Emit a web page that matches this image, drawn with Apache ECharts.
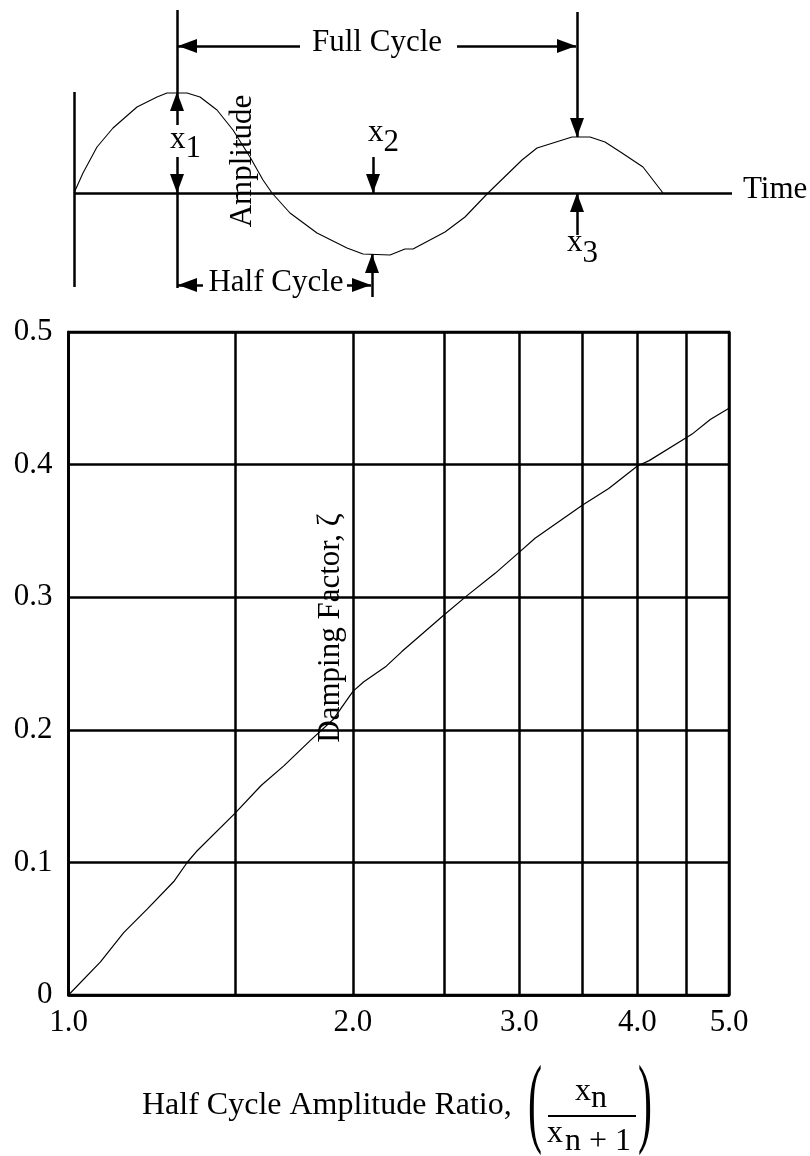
<!DOCTYPE html>
<html><head><meta charset="utf-8">
<script src="https://cdn.jsdelivr.net/npm/echarts@6/dist/echarts.min.js"></script>
<style>html,body{margin:0;padding:0;background:#fff}#c{width:810px;height:1156px}</style>
</head><body><div id="c"></div>
<script>
// ---- main chart data (half cycle amplitude ratio vs damping factor) ----
const ratio = [1.0, 1.081, 1.144, 1.212, 1.294, 1.337, 1.365, 1.5, 1.599, 1.691, 1.803, 1.907, 2.0, 2.052, 2.169, 2.253, 2.5, 2.639, 2.828, 3.0, 3.117, 3.5, 3.73, 4.0, 4.116, 4.5, 4.57, 4.777, 5.0];
const zeta  = [0, 0.025, 0.047, 0.065, 0.086, 0.1005, 0.108, 0.137, 0.158, 0.173, 0.192, 0.208, 0.229, 0.236, 0.248, 0.259, 0.287, 0.301, 0.318, 0.334, 0.3445, 0.3695, 0.382, 0.399, 0.403, 0.420, 0.423, 0.434, 0.4425];
const xGridValues = [1, 1.5, 2, 2.5, 3, 3.5, 4, 4.5, 5];
const xLabelValues = [1, 2, 3, 4, 5];
const yMin = 0, yMax = 0.5, yStep = 0.1;

// ---- schematic wave (time, amplitude) ----
const waveTime = [0, 0.09, 0.23, 0.39, 0.63, 0.83, 0.93, 1.13, 1.26, 1.43, 1.59, 1.76, 1.89, 1.98, 2.16, 2.43, 2.73, 2.89, 3.16, 3.31, 3.39, 3.71, 3.91, 4.14, 4.48, 4.63, 4.98, 5.16, 5.31, 5.48, 5.69, 5.89];
const waveAmp  = [0, 0.20, 0.46, 0.65, 0.86, 0.96, 1.0, 1.0, 0.96, 0.83, 0.63, 0.36, 0.13, 0, -0.20, -0.40, -0.55, -0.61, -0.62, -0.56, -0.56, -0.39, -0.24, 0, 0.33, 0.45, 0.56, 0.56, 0.51, 0.40, 0.26, 0];
// schematic segments in (time, amplitude) space: [t1, a1, t2, a2, arrowAtEnd]
const diagramSegments = [
  [0, 1.01, 0, -0.94, 0],
  [0, 0, 6.58, 0, 0],
  [1.03, 1.83, 1.03, 1.01, 0],
  [1.03, 0.68, 1.03, 1.01, 1],
  [1.03, 0.36, 1.03, 0, 1],
  [1.03, 0, 1.03, -0.95, 0],
  [2.26, 1.47, 1.04, 1.47, 1],
  [3.83, 1.47, 5.02, 1.47, 1],
  [5.03, 1.81, 5.03, 0.56, 1],
  [5.03, -0.42, 5.03, 0, 1],
  [2.99, 0.36, 2.99, 0, 1],
  [2.98, -1.04, 2.98, -0.61, 1],
  [1.29, -0.92, 1.04, -0.92, 1],
  [2.73, -0.92, 2.97, -0.92, 1]
];

const FONT = '"Liberation Serif", "DejaVu Serif", serif';
const chart = echarts.init(document.getElementById('c'), null, {renderer: 'canvas'});

const segData = diagramSegments.map(s => [
  {coord: [s[0], s[1]], symbol: 'none'},
  {coord: [s[2], s[3]], symbol: s[4] ? 'triangle' : 'none', symbolSize: [14, 19], symbolOffset: [0, 9.5]}
]);

function txt(text, x, y, size, align, rot) {
  return {type: 'text', x: x, y: y, rotation: rot || 0, silent: true,
    style: {text: text, font: size + 'px ' + FONT, fill: '#000', align: align || 'left', verticalAlign: 'middle'}};
}

const option = {
  animation: false,
  backgroundColor: '#fff',
  grid: [
    {left: 68.5, top: 332, width: 660.5, height: 663, show: true, borderColor: '#000', borderWidth: 2.5, backgroundColor: 'transparent', outerBoundsMode: 'none', containLabel: false},
    {left: 74, top: 3, width: 736, height: 310, show: false, outerBoundsMode: 'none', containLabel: false}
  ],
  xAxis: [
    {type: 'log', logBase: 10, min: 1, max: 5, gridIndex: 0,
     axisLine: {show: true, lineStyle: {color: '#000', width: 2.5}},
     axisTick: {show: false, customValues: xGridValues},
     axisLabel: {show: true, customValues: xLabelValues, formatter: v => Number(v).toFixed(1), fontFamily: FONT, fontSize: 31, color: '#000', margin: 12},
     splitLine: {show: true, lineStyle: {color: '#000', width: 2.5}},
     minorTick: {show: false}, minorSplitLine: {show: false}},
    {type: 'value', gridIndex: 1, min: 0, max: 7.36, show: false}
  ],
  yAxis: [
    {type: 'value', min: yMin, max: yMax, interval: yStep, gridIndex: 0,
     axisLine: {show: true, lineStyle: {color: '#000', width: 2.5}},
     axisTick: {show: false},
     axisLabel: {formatter: v => (v === 0 ? '0' : v.toFixed(1)), fontFamily: FONT, fontSize: 31, color: '#000', margin: 16},
     splitLine: {show: true, lineStyle: {color: '#000', width: 2.5}}},
    {type: 'value', gridIndex: 1, min: -1.2, max: 1.9, show: false}
  ],
  series: [
    {type: 'line', xAxisIndex: 0, yAxisIndex: 0, data: ratio.map((r, i) => [r, zeta[i]]),
     symbol: 'none', lineStyle: {color: '#000', width: 1.2}, silent: true, z: 5},
    {type: 'line', xAxisIndex: 1, yAxisIndex: 1, data: waveTime.map((t, i) => [t, waveAmp[i]]),
     symbol: 'none', lineStyle: {color: '#000', width: 1.1}, silent: true,
     markLine: {silent: true, symbol: ['none', 'none'], animation: false,
       lineStyle: {color: '#000', width: 2.5, type: 'solid'},
       itemStyle: {color: '#000'},
       label: {show: false}, emphasis: {disabled: true},
       data: segData}}
  ],
  graphic: [
    txt('Full Cycle', 377, 42.5, 31, 'center'),
    txt('Half Cycle', 276, 282.5, 31, 'center'),
    txt('Time', 743, 189.5, 31, 'left'),
    txt('Amplitude', 242.5, 161, 31, 'center', Math.PI / 2),
    txt('x', 170, 139.5, 31), txt('1', 185.5, 148.5, 31),
    txt('x', 368, 132.5, 31), txt('2', 383.5, 142.5, 31),
    txt('x', 567, 242.5, 31), txt('3', 582.5, 253.5, 31),
    txt('Damping Factor, \u03B6', 330.5, 628, 31, 'center', Math.PI / 2),
    txt('Half Cycle Amplitude Ratio,', 142, 1106, 32, 'left'),
    txt('x', 575, 1092, 32), txt('n', 591, 1099, 32),
    txt('x', 547, 1134, 32), txt('n + 1', 565, 1142, 32),
    {type: 'line', silent: true, shape: {x1: 548, y1: 1116, x2: 636, y2: 1116}, style: {stroke: '#000', lineWidth: 2}},
    {type: 'text', x: 535, y: 1108, scaleX: 0.42, silent: true, style: {text: '(', font: '100px ' + FONT, fill: '#000', align: 'center', verticalAlign: 'middle'}},
    {type: 'text', x: 645, y: 1108, scaleX: 0.42, silent: true, style: {text: ')', font: '100px ' + FONT, fill: '#000', align: 'center', verticalAlign: 'middle'}}
  ]
};
chart.setOption(option);
</script>
</body></html>
